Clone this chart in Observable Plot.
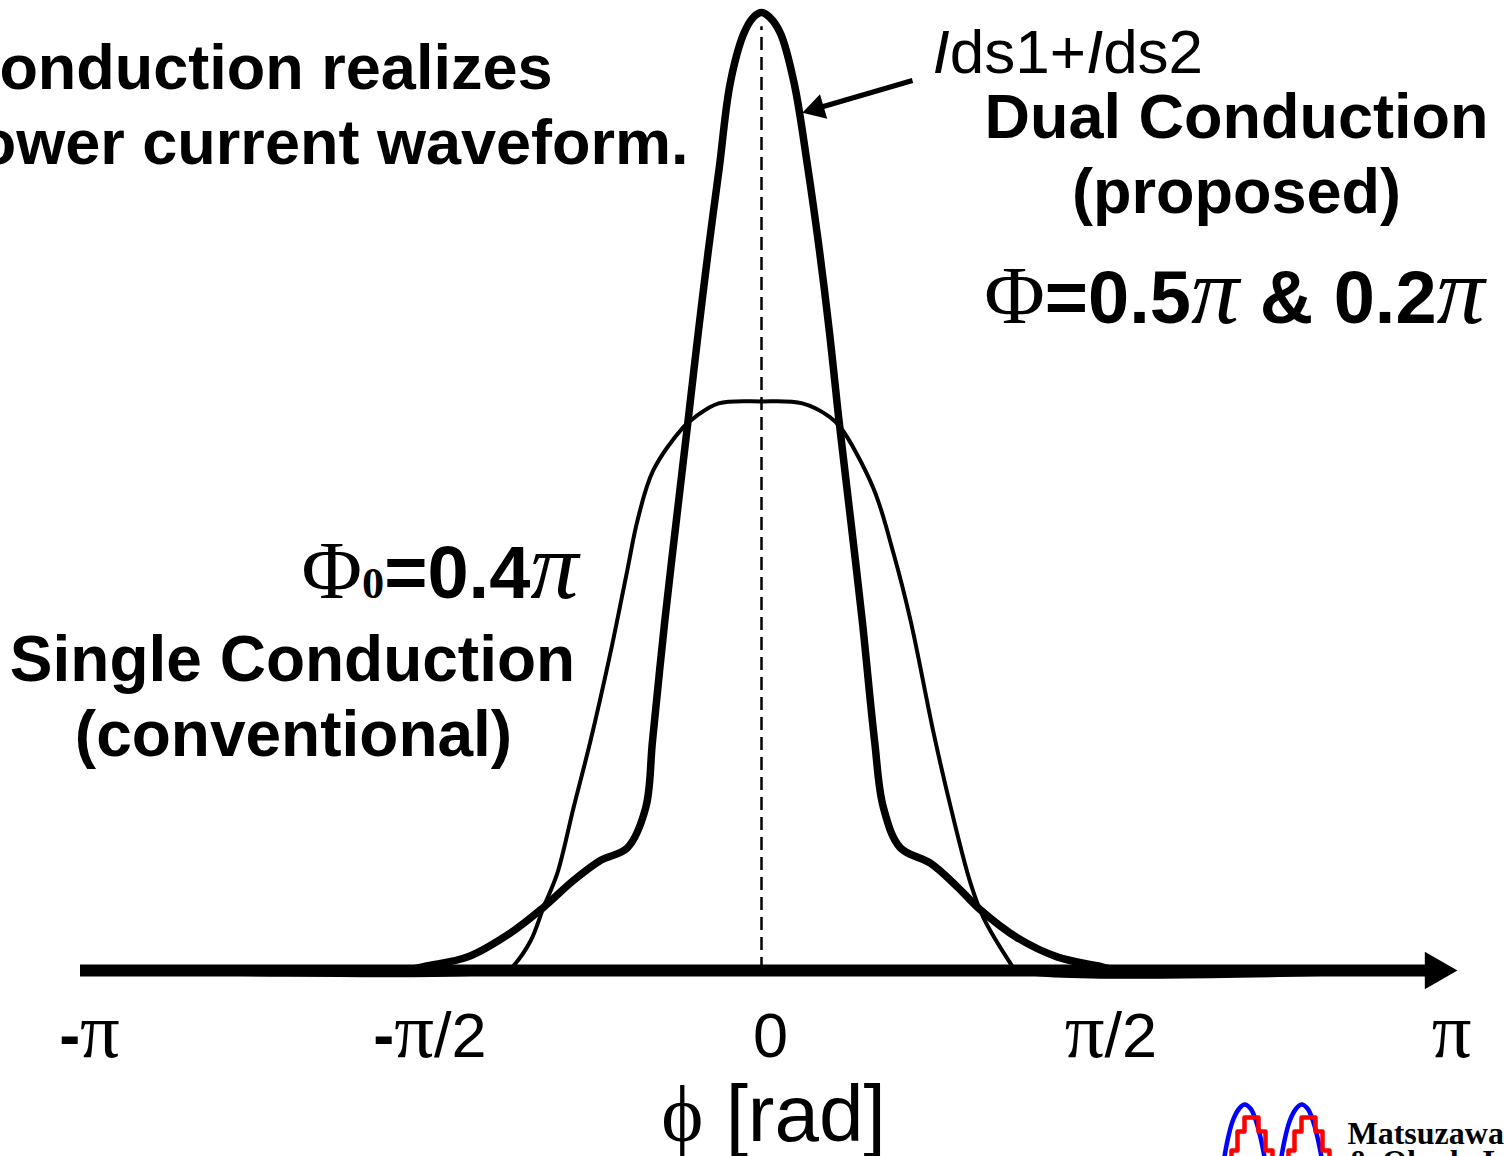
<!DOCTYPE html>
<html><head><meta charset="utf-8">
<script src="https://cdn.jsdelivr.net/npm/d3@7"></script>
<script src="https://cdn.jsdelivr.net/npm/@observablehq/plot@0.6"></script>
<style>html,body{margin:0;padding:0;background:#fff;} svg{display:block}</style>
</head><body><div id="chart"></div>
<script>
// ---- data: phase in units of π, current normalised to the dual-conduction peak ----
const dualPhase = [-1, -0.53, -0.490, -0.432, -0.369, -0.320, -0.276, -0.236, -0.197, -0.170, -0.160, -0.142, -0.125, -0.107, -0.093, -0.078, -0.062, -0.046, -0.026, -0.012, 0, 0.012, 0.028, 0.048, 0.068, 0.085, 0.100, 0.113, 0.131, 0.148, 0.166, 0.179, 0.204, 0.248, 0.288, 0.322, 0.376, 0.435, 0.493, 0.527, 1];
const dualCurrent = [0, 0, 0.005, 0.014, 0.039, 0.066, 0.094, 0.115, 0.128, 0.170, 0.240, 0.365, 0.470, 0.579, 0.665, 0.752, 0.838, 0.926, 0.978, 0.995, 1.0, 0.995, 0.978, 0.926, 0.838, 0.752, 0.665, 0.579, 0.470, 0.365, 0.240, 0.170, 0.128, 0.112, 0.087, 0.063, 0.034, 0.014, 0.005, 0, 0];
const singlePhase = [-1, -0.372, -0.364, -0.339, -0.320, -0.300, -0.276, -0.251, -0.222, -0.197, -0.182, -0.159, -0.115, -0.097, -0.063, 0, 0.060, 0.100, 0.116, 0.164, 0.194, 0.219, 0.253, 0.278, 0.307, 0.326, 0.366, 0.373, 1];
const singleCurrent = [0, 0, 0.005, 0.031, 0.066, 0.101, 0.170, 0.240, 0.331, 0.418, 0.470, 0.522, 0.567, 0.578, 0.592, 0.594, 0.592, 0.578, 0.567, 0.504, 0.435, 0.365, 0.247, 0.170, 0.091, 0.055, 0.007, 0, 0];
const tickValues = [-1, -0.5, 0, 0.5, 1];
const tickLabels = ["-π", "-π/2", "0", "π/2", "π"];
const axisLabel = ["ϕ [rad]"];
const titleLines = ["onduction realizes", "ower current waveform."];
const sumLabel = ["Ids1+Ids2"];
const dualLabels = ["Dual Conduction", "(proposed)", "Φ=0.5π & 0.2π"];
const singleLabels = ["Φ0=0.4π", "Single Conduction", "(conventional)"];
const logoText = ["Matsuzawa", "& Okada Lab."];

const dual = dualPhase.map((x, i) => ({x, y: dualCurrent[i]}));
const single = singlePhase.map((x, i) => ({x, y: singleCurrent[i]}));

// pixel helpers (for decoration only: arrowheads & logo)
const X0 = 761, XS = 681, Y0 = 970, YS = 958;
const U = px => (px - X0) / XS, V = py => (Y0 - py) / YS;
const logoBlue = [[1223,1162],[1227,1140],[1232,1121],[1238,1109],[1244,1104],[1250,1108],[1255,1119],[1260,1137],[1265,1162]];
const logoRed = [[1231,1162],[1231,1150],[1237,1150],[1237,1131],[1244,1131],[1244,1117],[1258,1117],[1258,1131],[1265,1131],[1265,1150],[1272,1150],[1272,1162]];
const hump = (pts, off) => pts.map(([a, b]) => ({x: U(a + off), y: V(b)}));

const SANS = "Liberation Sans, Arial, Helvetica, sans-serif";
const SERIF = "Liberation Serif, Times New Roman, serif";

function label(t, x, y, o = {}) {
  return Plot.text([t], {text: d => d, frameAnchor: "top-left", dx: x, dy: y, lineAnchor: "bottom",
    fontFamily: SANS, fontWeight: "bold", fontSize: 64, fill: "black", textAnchor: "middle", ...o});
}

const annot = {x1: U(912), y1: V(80), x2: U(816), y2: V(108)};

const chart = Plot.plot({
  width: 1504, height: 1156, margin: 0,
  x: {domain: [-1, 1], range: [80, 1442], axis: null},
  y: {domain: [0, 1], range: [970, 12], axis: null},
  style: {background: "white"},
  marks: [
    Plot.ruleX([0], {y1: 0, y2: 0.985, stroke: "black", strokeWidth: 2.5, strokeDasharray: "13,7"}),
    Plot.line(single, {x: "x", y: "y", curve: "catmull-rom", stroke: "black", strokeWidth: 4, strokeLinejoin: "round", strokeLinecap: "butt"}),
    Plot.line(dual, {x: "x", y: "y", curve: "catmull-rom", stroke: "black", strokeWidth: 7.5, strokeLinejoin: "round", strokeLinecap: "butt"}),
    Plot.ruleY([0], {x1: -1, x2: 0.985, stroke: "black", strokeWidth: 12}),
    Plot.dot([0], {x: () => 0.99, y: () => 0, symbol: "triangle", r: 14, fill: "black", stroke: "none", rotate: 90}),
    Plot.link([annot], {x1: "x1", y1: "y1", x2: "x2", y2: "y2", stroke: "black", strokeWidth: 5}),
    Plot.dot([annot], {x: "x2", y: "y2", symbol: "triangle", r: 9.5, fill: "black", stroke: "none", rotate: 253.6}),
    // tick labels
    Plot.text(tickValues, {x: d => d, y: () => 0, dx: 9, dy: 86, text: (d, i) => tickLabels[i], lineAnchor: "bottom",
      fontFamily: SANS, fontSize: 63, fill: "black"}),
    label(axisLabel[0], 773, 1140, {fontWeight: "normal", fontSize: 80}),
    label(titleLines[0], 552, 88, {textAnchor: "end", fontSize: 63}),
    label(titleLines[1], 688, 163, {textAnchor: "end", fontSize: 63}),
    label(sumLabel[0], 932, 72, {textAnchor: "start", fontWeight: "normal", fontSize: 62}),
    label(dualLabels[0], 1236, 137, {fontSize: 63}),
    label(dualLabels[1], 1236, 212, {fontSize: 63}),
    label(dualLabels[2], 1234, 322, {fontSize: 74}),
    label(singleLabels[0], 578, 597, {textAnchor: "end", fontSize: 74}),
    label(singleLabels[1], 292, 680, {fontSize: 64}),
    label(singleLabels[2], 293, 755, {fontSize: 64}),
    // logo
    Plot.line(hump(logoBlue, 0), {x: "x", y: "y", stroke: "#0000ff", strokeWidth: 4.5, curve: "catmull-rom"}),
    Plot.line(hump(logoBlue, 57), {x: "x", y: "y", stroke: "#0000ff", strokeWidth: 4.5, curve: "catmull-rom"}),
    Plot.line(hump(logoRed, 0), {x: "x", y: "y", stroke: "#ff0000", strokeWidth: 4.5}),
    Plot.line(hump(logoRed, 57), {x: "x", y: "y", stroke: "#ff0000", strokeWidth: 4.5}),
    label(logoText[0], 1347, 1143, {textAnchor: "start", fontFamily: SERIF, fontSize: 32}),
    label(logoText[1], 1347, 1171, {textAnchor: "start", fontFamily: SERIF, fontSize: 32})
  ]
});

// mixed-font runs
const IT = {"font-style": "italic"};
const GRT = {"font-family": SERIF, "font-weight": "normal", "font-size": "1.25em"};
const GR = {"font-family": SERIF, "font-weight": "normal"};
const GRI = {"font-family": SERIF, "font-weight": "normal", "font-style": "italic", "font-size": "1.3em"};
const PHI = {"font-family": SERIF, "font-weight": "normal", "font-size": "1.12em"};
const rich = {
  "-π": [["-", {"font-weight": "bold"}], ["π", GRT]],
  "-π/2": [["-", {"font-weight": "bold"}], ["π", GRT], ["/2", {}]],
  "π/2": [["π", GRT], ["/2", {}]],
  "π": [["π", GRT]],
  "ϕ [rad]": [["ϕ", GR], [" [rad]", {}]],
  "Ids1+Ids2": [["I", IT], ["ds1+", {}], ["I", IT], ["ds2", {}]],
  "Φ=0.5π & 0.2π": [["Φ", PHI], ["=0.5", {}], ["π", GRI], [" & 0.2", {}], ["π", GRI]],
  "Φ0=0.4π": [["Φ", PHI], ["0", {"font-family": SERIF, "font-weight": "bold", "font-size": "0.6em"}], ["=0.4", {}], ["π", GRI]]
};
const NS = "http://www.w3.org/2000/svg";
d3.select(chart).selectAll("text").each(function () {
  const segs = rich[this.textContent];
  if (segs) {
    this.textContent = "";
    for (const [s, st] of segs) {
      const t = document.createElementNS(NS, "tspan");
      t.textContent = s;
      for (const k in st) t.setAttribute(k, st[k]);
      this.appendChild(t);
    }
  }
});
document.getElementById("chart").appendChild(chart);
</script></body></html>
